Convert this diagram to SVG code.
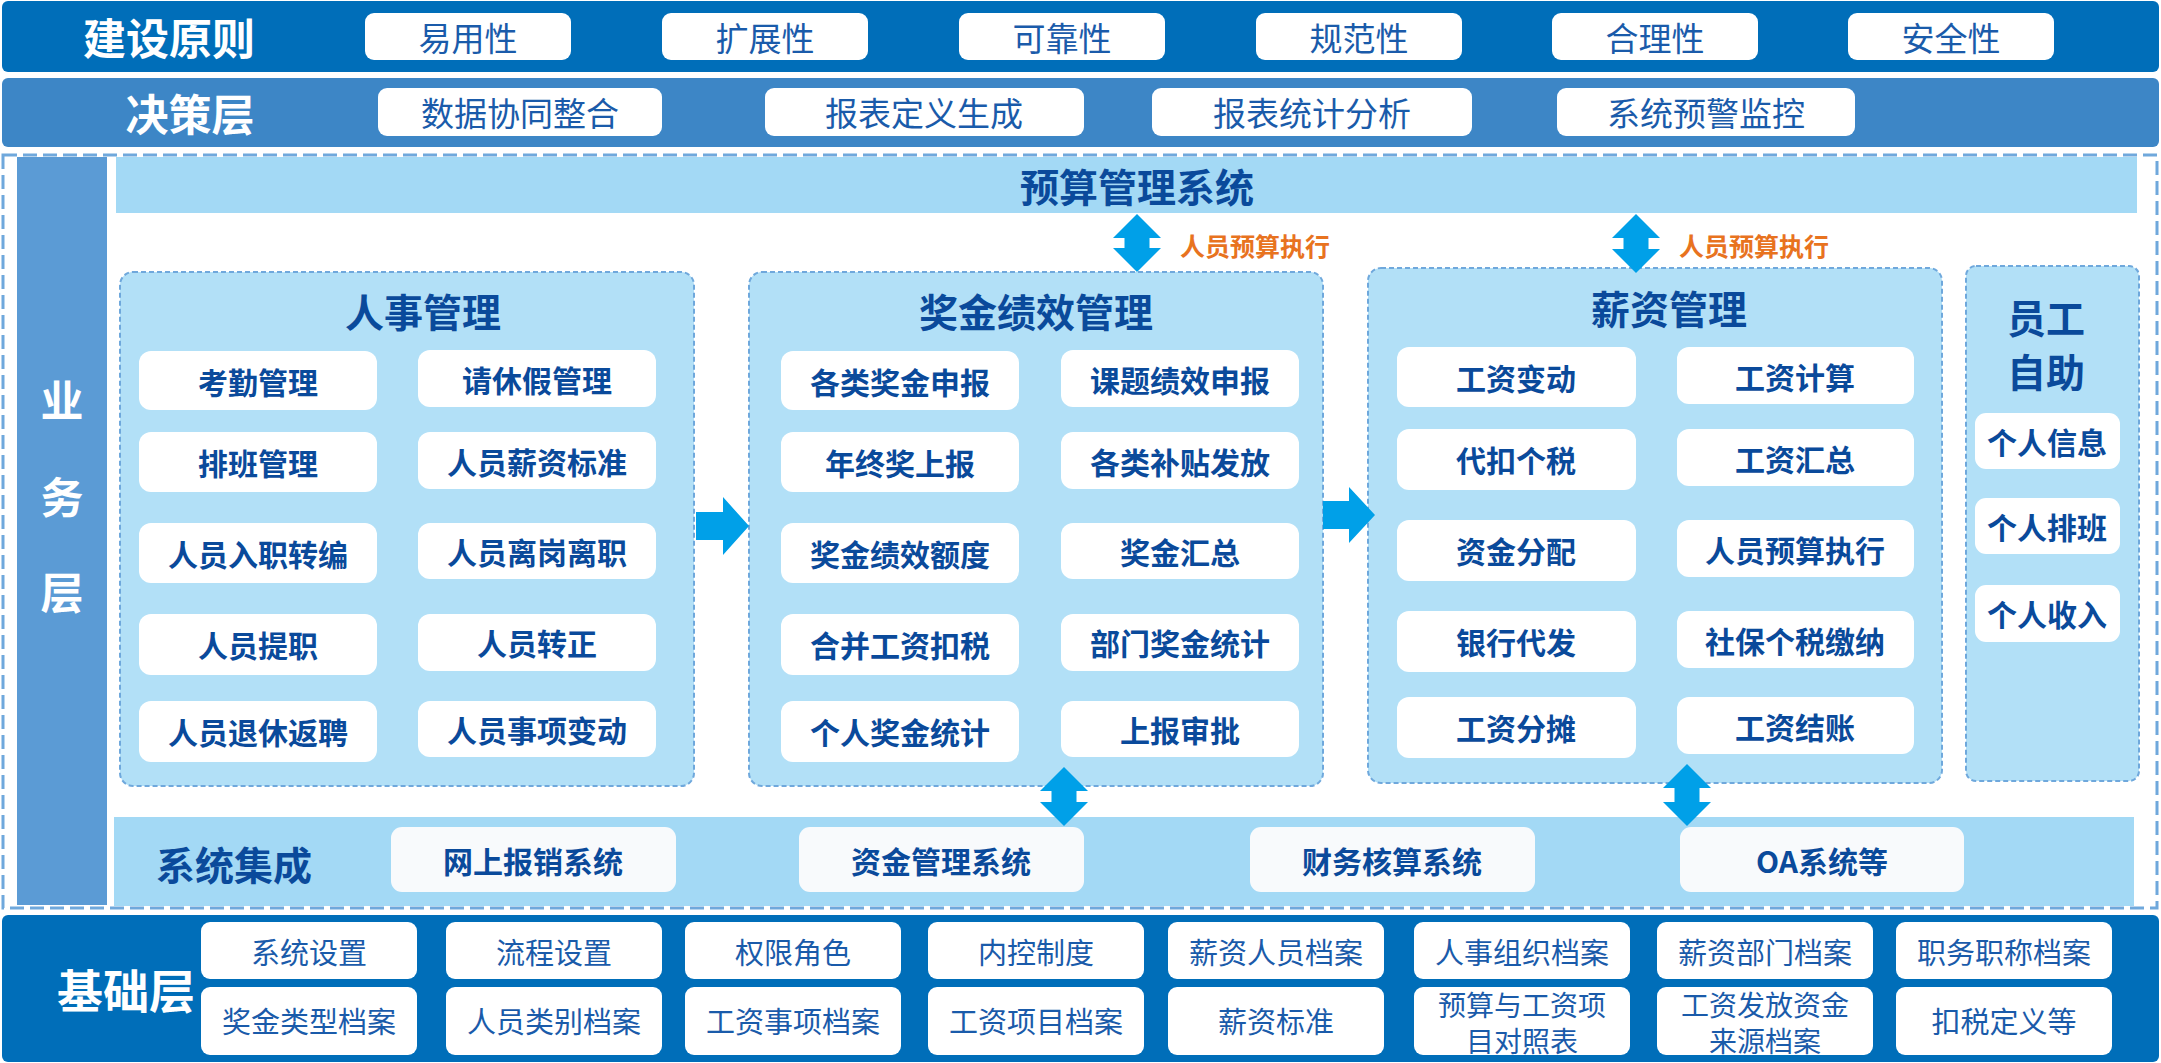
<svg xmlns="http://www.w3.org/2000/svg" width="2161" height="1063" viewBox="0 0 2161 1063">
<style>
text{font-family:"Noto Sans CJK SC","Liberation Sans",sans-serif;text-anchor:middle;dominant-baseline:central}
.band1{fill:#006EB9}
.band2{fill:#3D86C6}
.vband{fill:#5B9BD5}
.lband{fill:#A3D9F5}
.cont{fill:#B2E0F7;stroke:#6FA8DC;stroke-width:2;stroke-dasharray:5 3}
.wbox{fill:#FFFFFF}
.ibox{fill:#FFFFFF}
.sbox{fill:#F8FAFC}
.hd{fill:#FFFFFF;font-weight:700}
.pt{fill:#1A5BAA;font-size:33px;font-weight:400}
.it{fill:#0A4A9B;font-size:30px;font-weight:700}
.ti{fill:#0A4A9B;font-size:39px;font-weight:700}
.bt{fill:#1A5BAA;font-size:29px;font-weight:400}
.bt2{fill:#1A5BAA;font-size:28px;font-weight:400}
.lab{fill:#E8731F;font-size:25px;font-weight:700;text-anchor:start}
.arr{fill:#00A0E8}
</style>

<!-- 建设原则 -->
<g id="principles">
<rect class="band1" x="2" y="1" width="2157" height="71" rx="6"/>
<text class="hd" x="169" y="36" font-size="43">建设原则</text>
<rect class="wbox" x="365" y="13" width="206" height="47" rx="9"/><text class="pt" x="468" y="37">易用性</text>
<rect class="wbox" x="662" y="13" width="206" height="47" rx="9"/><text class="pt" x="765" y="37">扩展性</text>
<rect class="wbox" x="959" y="13" width="206" height="47" rx="9"/><text class="pt" x="1062" y="37">可靠性</text>
<rect class="wbox" x="1256" y="13" width="206" height="47" rx="9"/><text class="pt" x="1359" y="37">规范性</text>
<rect class="wbox" x="1552" y="13" width="206" height="47" rx="9"/><text class="pt" x="1655" y="37">合理性</text>
<rect class="wbox" x="1848" y="13" width="206" height="47" rx="9"/><text class="pt" x="1951" y="37">安全性</text>
</g>

<!-- 决策层 -->
<g id="decision">
<rect class="band2" x="2" y="78" width="2157" height="69" rx="6"/>
<text class="hd" x="190" y="112" font-size="43">决策层</text>
<rect class="wbox" x="378" y="88" width="284" height="48" rx="9"/><text class="pt" x="520" y="112" font-size="34">数据协同整合</text>
<rect class="wbox" x="765" y="88" width="319" height="48" rx="9"/><text class="pt" x="924" y="112" font-size="34">报表定义生成</text>
<rect class="wbox" x="1152" y="88" width="320" height="48" rx="9"/><text class="pt" x="1312" y="112" font-size="34">报表统计分析</text>
<rect class="wbox" x="1557" y="88" width="298" height="48" rx="9"/><text class="pt" x="1706" y="112" font-size="34">系统预警监控</text>
</g>

<!-- 业务层 -->
<g id="business">
<rect x="3" y="155" width="2154" height="753" fill="none" stroke="#6FA8DC" stroke-width="3" stroke-dasharray="14 6"/>
<rect class="vband" x="17" y="157" width="90" height="748"/>
<text class="hd" x="62" y="398" font-size="43">业</text>
<text class="hd" x="62" y="495" font-size="43">务</text>
<text class="hd" x="62" y="590" font-size="43">层</text>
</g>

<g id="budget">
<rect class="lband" x="116" y="157" width="2021" height="56"/>
<text class="ti" x="1137" y="185" font-size="41">预算管理系统</text>
</g>

<g id="hr">
<rect class="cont" x="120" y="272" width="574" height="514" rx="13"/>
<text class="ti" x="423" y="310">人事管理</text>
<rect class="ibox" x="139" y="351" width="238" height="59" rx="12"/><text class="it" x="258" y="381">考勤管理</text>
<rect class="ibox" x="418" y="350" width="238" height="57" rx="12"/><text class="it" x="537" y="379">请休假管理</text>
<rect class="ibox" x="139" y="432" width="238" height="60" rx="12"/><text class="it" x="258" y="462">排班管理</text>
<rect class="ibox" x="418" y="432" width="238" height="57" rx="12"/><text class="it" x="537" y="461">人员薪资标准</text>
<rect class="ibox" x="139" y="523" width="238" height="60" rx="12"/><text class="it" x="258" y="553">人员入职转编</text>
<rect class="ibox" x="418" y="523" width="238" height="56" rx="12"/><text class="it" x="537" y="551">人员离岗离职</text>
<rect class="ibox" x="139" y="614" width="238" height="61" rx="12"/><text class="it" x="258" y="644">人员提职</text>
<rect class="ibox" x="418" y="614" width="238" height="57" rx="12"/><text class="it" x="537" y="642">人员转正</text>
<rect class="ibox" x="139" y="701" width="238" height="61" rx="12"/><text class="it" x="258" y="731">人员退休返聘</text>
<rect class="ibox" x="418" y="701" width="238" height="56" rx="12"/><text class="it" x="537" y="729">人员事项变动</text>
</g>

<g id="bonus">
<rect class="cont" x="749" y="272" width="574" height="514" rx="13"/>
<text class="ti" x="1036" y="310">奖金绩效管理</text>
<rect class="ibox" x="781" y="351" width="238" height="59" rx="12"/><text class="it" x="900" y="381">各类奖金申报</text>
<rect class="ibox" x="1061" y="350" width="238" height="57" rx="12"/><text class="it" x="1180" y="379">课题绩效申报</text>
<rect class="ibox" x="781" y="432" width="238" height="60" rx="12"/><text class="it" x="900" y="462">年终奖上报</text>
<rect class="ibox" x="1061" y="432" width="238" height="57" rx="12"/><text class="it" x="1180" y="461">各类补贴发放</text>
<rect class="ibox" x="781" y="523" width="238" height="60" rx="12"/><text class="it" x="900" y="553">奖金绩效额度</text>
<rect class="ibox" x="1061" y="523" width="238" height="56" rx="12"/><text class="it" x="1180" y="551">奖金汇总</text>
<rect class="ibox" x="781" y="614" width="238" height="61" rx="12"/><text class="it" x="900" y="644">合并工资扣税</text>
<rect class="ibox" x="1061" y="614" width="238" height="57" rx="12"/><text class="it" x="1180" y="642">部门奖金统计</text>
<rect class="ibox" x="781" y="701" width="238" height="61" rx="12"/><text class="it" x="900" y="731">个人奖金统计</text>
<rect class="ibox" x="1061" y="701" width="238" height="56" rx="12"/><text class="it" x="1180" y="729">上报审批</text>
</g>

<g id="salary">
<rect class="cont" x="1368" y="268" width="574" height="515" rx="13"/>
<text class="ti" x="1669" y="307">薪资管理</text>
<rect class="ibox" x="1397" y="347" width="239" height="60" rx="12"/><text class="it" x="1516" y="377">工资变动</text>
<rect class="ibox" x="1677" y="347" width="237" height="57" rx="12"/><text class="it" x="1795" y="376">工资计算</text>
<rect class="ibox" x="1397" y="429" width="239" height="61" rx="12"/><text class="it" x="1516" y="459">代扣个税</text>
<rect class="ibox" x="1677" y="429" width="237" height="57" rx="12"/><text class="it" x="1795" y="458">工资汇总</text>
<rect class="ibox" x="1397" y="520" width="239" height="61" rx="12"/><text class="it" x="1516" y="550">资金分配</text>
<rect class="ibox" x="1677" y="520" width="237" height="57" rx="12"/><text class="it" x="1795" y="549">人员预算执行</text>
<rect class="ibox" x="1397" y="611" width="239" height="61" rx="12"/><text class="it" x="1516" y="641">银行代发</text>
<rect class="ibox" x="1677" y="611" width="237" height="57" rx="12"/><text class="it" x="1795" y="640">社保个税缴纳</text>
<rect class="ibox" x="1397" y="697" width="239" height="61" rx="12"/><text class="it" x="1516" y="727">工资分摊</text>
<rect class="ibox" x="1677" y="697" width="237" height="57" rx="12"/><text class="it" x="1795" y="726">工资结账</text>
</g>

<g id="selfservice">
<rect class="cont" x="1966" y="266" width="173" height="515" rx="10"/>
<text class="ti" x="2046" y="316">员工</text>
<text class="ti" x="2046" y="370">自助</text>
<rect class="ibox" x="1975" y="413" width="145" height="56" rx="11"/><text class="it" x="2047" y="441">个人信息</text>
<rect class="ibox" x="1975" y="498" width="145" height="56" rx="11"/><text class="it" x="2047" y="526">个人排班</text>
<rect class="ibox" x="1975" y="585" width="145" height="57" rx="11"/><text class="it" x="2047" y="613">个人收入</text>
</g>

<g id="integration">
<rect class="lband" x="114" y="817" width="2020" height="89"/>
<text class="ti" x="234" y="863" font-size="38">系统集成</text>
<rect class="sbox" x="391" y="827" width="285" height="65" rx="11"/><text class="it" x="533" y="860">网上报销系统</text>
<rect class="sbox" x="799" y="827" width="285" height="65" rx="11"/><text class="it" x="941" y="860">资金管理系统</text>
<rect class="sbox" x="1250" y="827" width="285" height="65" rx="11"/><text class="it" x="1392" y="860">财务核算系统</text>
<rect class="sbox" x="1680" y="827" width="284" height="65" rx="11"/><text class="it" x="1822" y="860">OA系统等</text>
</g>

<!-- 基础层 -->
<g id="foundation">
<rect class="band1" x="2" y="915" width="2157" height="147" rx="6"/>
<text class="hd" x="126" y="988" font-size="46">基础层</text>
<rect class="wbox" x="201" y="922" width="216" height="57" rx="9"/><text class="bt" x="309" y="951">系统设置</text>
<rect class="wbox" x="446" y="922" width="216" height="57" rx="9"/><text class="bt" x="554" y="951">流程设置</text>
<rect class="wbox" x="685" y="922" width="216" height="57" rx="9"/><text class="bt" x="793" y="951">权限角色</text>
<rect class="wbox" x="928" y="922" width="216" height="57" rx="9"/><text class="bt" x="1036" y="951">内控制度</text>
<rect class="wbox" x="1168" y="922" width="216" height="57" rx="9"/><text class="bt" x="1276" y="951">薪资人员档案</text>
<rect class="wbox" x="1414" y="922" width="216" height="57" rx="9"/><text class="bt" x="1522" y="951">人事组织档案</text>
<rect class="wbox" x="1657" y="922" width="216" height="57" rx="9"/><text class="bt" x="1765" y="951">薪资部门档案</text>
<rect class="wbox" x="1896" y="922" width="216" height="57" rx="9"/><text class="bt" x="2004" y="951">职务职称档案</text>
<rect class="wbox" x="201" y="987" width="216" height="68" rx="9"/><text class="bt" x="309" y="1020">奖金类型档案</text>
<rect class="wbox" x="446" y="987" width="216" height="68" rx="9"/><text class="bt" x="554" y="1020">人员类别档案</text>
<rect class="wbox" x="685" y="987" width="216" height="68" rx="9"/><text class="bt" x="793" y="1020">工资事项档案</text>
<rect class="wbox" x="928" y="987" width="216" height="68" rx="9"/><text class="bt" x="1036" y="1020">工资项目档案</text>
<rect class="wbox" x="1168" y="987" width="216" height="68" rx="9"/><text class="bt" x="1276" y="1020">薪资标准</text>
<rect class="wbox" x="1414" y="987" width="216" height="68" rx="9"/><text class="bt2" x="1522" y="1004">预算与工资项</text><text class="bt2" x="1522" y="1040">目对照表</text>
<rect class="wbox" x="1657" y="987" width="216" height="68" rx="9"/><text class="bt2" x="1765" y="1004">工资发放资金</text><text class="bt2" x="1765" y="1040">来源档案</text>
<rect class="wbox" x="1896" y="987" width="216" height="68" rx="9"/><text class="bt" x="2004" y="1020">扣税定义等</text>
</g>

<!-- connectors -->
<g id="connectors">
<path class="arr" d="M1137,214 L1161,238 L1149.5,238 L1149.5,248 L1161,248 L1137,272 L1113,248 L1124.5,248 L1124.5,238 L1113,238 Z"/>
<path class="arr" d="M1636,214 L1660,238 L1648.5,238 L1648.5,249 L1660,249 L1636,273 L1612,249 L1623.5,249 L1623.5,238 L1612,238 Z"/>
<path class="arr" d="M1064,767 L1088,791 L1076.5,791 L1076.5,802 L1088,802 L1064,826 L1040,802 L1051.5,802 L1051.5,791 L1040,791 Z"/>
<path class="arr" d="M1687,764 L1711,788 L1699.5,788 L1699.5,802 L1711,802 L1687,826 L1663,802 L1674.5,802 L1674.5,788 L1663,788 Z"/>
<path class="arr" d="M696,512 L723,512 L723,497 L749,526 L723,555 L723,540 L696,540 Z"/>
<path class="arr" d="M1323,501 L1349,501 L1349,487 L1375,515 L1349,543 L1349,529 L1323,529 Z"/>
<text class="lab" x="1180" y="245">人员预算执行</text>
<text class="lab" x="1679" y="245">人员预算执行</text>
</g>
</svg>
